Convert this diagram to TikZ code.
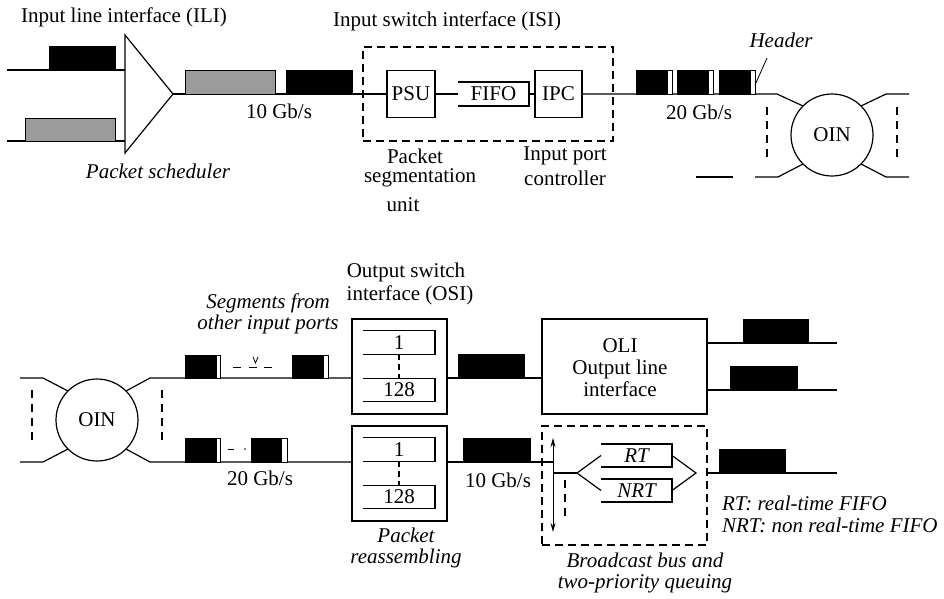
\documentclass[tikz,border=0pt]{standalone}
\usepackage{fontspec}
\setmainfont{Liberation Serif}
\usetikzlibrary{arrows.meta}
\definecolor{pktgray}{RGB}{155,155,155}
\begin{document}
\begin{tikzpicture}[x=1pt,y=-1pt,line width=1.2pt,
  every node/.style={inner sep=0pt,outer sep=0pt},
  lbl/.style={font=\fontsize{21}{25}\selectfont},
  itlbl/.style={font=\fontsize{21}{25}\selectfont\itshape},
  box/.style={draw,line width=1.2pt,font=\fontsize{21}{25}\selectfont,align=center},
  dbox/.style={draw,line width=1.2pt,dash pattern=on 8pt off 5pt},
  dline/.style={dash pattern=on 8pt off 6pt},
  pkt/.style={fill=black,draw=black,line width=0.8pt},
  gpkt/.style={fill=pktgray,draw=black,line width=0.8pt},
  hdr/.style={fill=white,draw=black,line width=0.8pt},
  slot/.style={minimum width=72pt,minimum height=23.5pt,font=\fontsize{21}{25}\selectfont},
  bus/.style={{Stealth[length=9pt,width=5pt]}-{Stealth[length=9pt,width=5pt]}}
]
\useasboundingbox (0,0) rectangle (944,598);

% ---------------- input side ----------------
\node[lbl] (ilititle) at (124,17) {Input line interface (ILI)};

% packet scheduler
\coordinate (schtop) at (125,35);
\coordinate (schbot) at (125,153);
\coordinate (schtip) at (173,94);
\draw (schtop) -- (schtip) -- (schbot) -- cycle;
\draw (7,70) -- (schtop |- 0,70);
\draw (7,141) -- (schbot |- 0,141);
\filldraw[pkt] (49,46) rectangle (115,70);
\filldraw[gpkt] (25,118) rectangle (115,141);
\node[itlbl] (schlbl) at (158,171) {Packet scheduler};

% input switch interface
\node[lbl] (isititle) at (447,21) {Input switch interface (ISI)};
\node[dbox,minimum width=250pt,minimum height=94pt] (isi) at (488,94) {};
\node[box,minimum width=48pt,minimum height=47pt] (psu) at (411,94) {PSU};
\node[box,minimum width=47pt,minimum height=47pt] (ipc) at (558.5,94) {IPC};
\node[slot,minimum width=71pt,minimum height=24pt] (fifo) at (493.5,94) {FIFO};
\draw (fifo.north west) -- (fifo.north east) -- (fifo.south east) -- (fifo.south west);
\draw (schtip) -- (psu.west);
\draw (psu.east) -- (fifo.west);
\draw (fifo.east) -- (ipc.west);
\filldraw[gpkt] (185,70) rectangle (275,94);
\filldraw[pkt] (286,70) rectangle (352,94);
\node[lbl] (rate10a) at (279,111) {10 Gb/s};
\node[lbl] (psulbl1) at (415,156) {Packet};
\node[lbl] (psulbl2) at (420,178) {segmentation};
\node[lbl] (psulbl3) at (403,205) {unit};
\node[lbl] (ipclbl1) at (565,156) {Input port};
\node[lbl] (ipclbl2) at (565,178) {controller};

% optical interconnection network (input side)
\node[draw,circle,minimum size=82pt,lbl] (oina) at (832,135) {OIN};
\coordinate (ina) at (777,94);
\coordinate (inb) at (778,177);
\coordinate (outa) at (886,94);
\coordinate (outb) at (886,177);
\draw (ipc.east) -- (ina) -- (oina.135);
\draw (755,177) -- (inb) -- (oina.225);
\draw (696,177) -- (733,177);
\draw (oina.45) -- (outa) -- (909,94);
\draw (oina.315) -- (outb) -- (909,177);
\draw[dline] (767,107) -- (767,160);
\draw[dline] (897,107) -- (897,160);
\foreach \x in {636,677,719}{
  \filldraw[pkt] (\x,70) rectangle (\x+36,94);
  \filldraw[hdr] (\x+31,70) rectangle (\x+36,94);
}
\draw[line width=0.8pt] (755,85) -- (767,58);
\node[itlbl] (hdrlbl) at (781,40) {Header};
\node[lbl] (rate20a) at (699,112) {20 Gb/s};

% ---------------- output side ----------------
\node[draw,circle,minimum size=82pt,lbl] (oinb) at (97,420) {OIN};
\draw (20,378) -- (43,378) -- (oinb.135);
\draw (20,462) -- (43,462) -- (oinb.225);
\draw[dline] (32,390) -- (32,445);
\draw[dline] (162,390) -- (162,445);

% output switch interface
\node[lbl] (osititle1) at (406,272) {Output switch};
\node[lbl] (osititle2) at (410,295) {interface (OSI)};
\node[box,minimum width=95pt,minimum height=95pt] (osia) at (399.5,366.5) {};
\node[box,minimum width=95pt,minimum height=95pt] (osib) at (399.5,473.5) {};
\foreach \b/\yy in {a/0,b/107}{
  \node[slot] (one\b) at (399,342.5+\yy) {1};
  \node[slot] (last\b) at (399,390+\yy) {128};
  \draw (one\b.north west) -- (one\b.north east) -- (one\b.south east) -- (one\b.south west);
  \draw (last\b.north west) -- (last\b.north east) -- (last\b.south east) -- (last\b.south west);
  \draw[dash pattern=on 6pt off 4pt] (one\b.south) -- (last\b.north);
}
\node[itlbl,align=center] (reasm) at (406,548) {Packet\\[-4pt]reassembling};

\draw (oinb.45) -- (150,378) -- (osia.west |- 0,378);
\draw (oinb.315) -- (150,462) -- (osib.west |- 0,462);
\filldraw[pkt] (185,355) rectangle (220,378);
\filldraw[hdr] (216,355) rectangle (220,378);
\filldraw[pkt] (292,355) rectangle (328,378);
\filldraw[hdr] (323,355) rectangle (328,378);
\draw[line width=0.9pt,dash pattern=on 8pt off 7.5pt] (233,367) -- (273,367);
\draw[line width=0.8pt] (253,357) -- (255.5,363) -- (258,357);
\filldraw[pkt] (185,438) rectangle (220,462);
\filldraw[hdr] (216,438) rectangle (220,462);
\filldraw[pkt] (251,438) rectangle (287,462);
\filldraw[hdr] (281,438) rectangle (287,462);
\draw[line width=0.9pt] (228,449) -- (234,449);
\fill (245,449) circle (0.8pt);
\node[itlbl,align=center] (segs) at (268,314) {Segments from\\[-4pt]other input ports};
\node[lbl] (rate20b) at (260,478) {20 Gb/s};

% output line interface
\node[box,minimum width=165pt,minimum height=95pt] (oli) at (624.5,366.5) {};
\node[lbl,align=center] (olitext) at (620,368) {OLI\\[-3pt]Output line\\[-3pt]interface};
\draw (osia.east |- 0,378) -- (oli.west |- 0,378);
\filldraw[pkt] (458,354) rectangle (524,378);
\draw (oli.east |- 0,343) -- (837,343);
\draw (oli.east |- 0,390) -- (837,390);
\filldraw[pkt] (743,319) rectangle (808,343);
\filldraw[pkt] (730,366) rectangle (797,390);

% broadcast bus and two-priority queuing
\node[dbox,minimum width=165pt,minimum height=119pt] (bcast) at (624.5,485.5) {};
\coordinate (bustop) at (553,438);
\coordinate (busbot) at (553,532);
\draw[bus,line width=1pt] (bustop) -- (busbot);
\draw (osib.east |- 0,462) -- (bustop |- 0,462);
\filldraw[pkt] (463,438) rectangle (530,462);
\node[lbl] (rate10b) at (498,480) {10 Gb/s};
\draw[dline] (565,480) -- (565,520);
\node[slot,minimum width=71pt,minimum height=23pt,font=\fontsize{21}{25}\selectfont\itshape] (rt) at (636.5,455.5) {RT};
\node[slot,minimum width=71pt,minimum height=23pt,font=\fontsize{21}{25}\selectfont\itshape] (nrt) at (636.5,490.5) {NRT};
\draw (rt.north west) -- (rt.north east) -- (rt.south east) -- (rt.south west);
\draw (nrt.north west) -- (nrt.north east) -- (nrt.south east) -- (nrt.south west);
\coordinate (split) at (577,473);
\coordinate (merge) at (696,473);
\draw (bustop |- 0,473) -- (split);
\draw (split) -- (rt.west);
\draw (split) -- (nrt.west);
\draw (rt.east) -- (merge) -- (nrt.east);
\draw (708,473) -- (837,473);
\filldraw[pkt] (719,449) rectangle (785,473);
\node[itlbl,align=center] (bclbl) at (645,573) {Broadcast bus and\\[-4pt]two-priority queuing};
\node[itlbl,anchor=west] (rtnote) at (722,503) {RT: real-time FIFO};
\node[itlbl,anchor=west] (nrtnote) at (722,525) {NRT: non real-time FIFO};
\end{tikzpicture}
\end{document}
